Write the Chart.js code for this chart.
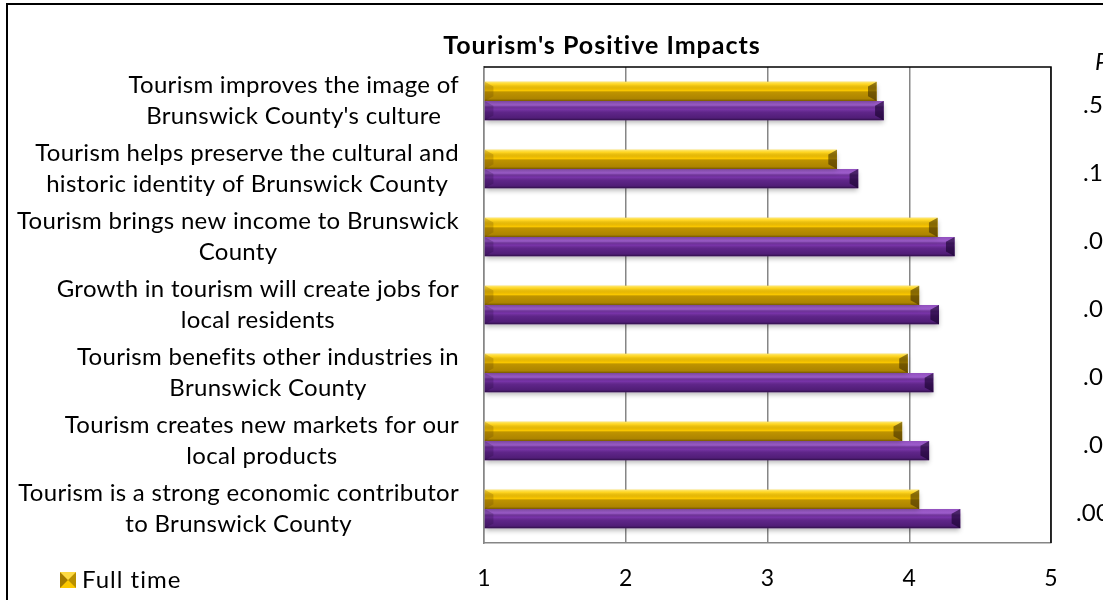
<!DOCTYPE html>
<html lang="en">
<head>
<meta charset="UTF-8">
<title>Tourism's Positive Impacts</title>
<script src="https://cdn.jsdelivr.net/npm/chart.js"></script>
<style>
    html, body {
        margin: 0;
        padding: 0;
        background: #fff;
        overflow: hidden;
    }
    canvas {
        display: block;
    }
</style>
</head>
<body>
<canvas id="impactsChart" width="1103" height="600"></canvas>
<script>
    const chartTitle = "Tourism's Positive Impacts";

    const statements = [
        ["Tourism improves the image of", "Brunswick County's culture"],
        ["Tourism helps preserve the cultural and", "historic identity of Brunswick County"],
        ["Tourism brings new income to Brunswick", "County"],
        ["Growth in tourism will create jobs for", "local residents"],
        ["Tourism benefits other industries in", "Brunswick County"],
        ["Tourism creates new markets for our", "local products"],
        ["Tourism is a strong economic contributor", "to Brunswick County"]
    ];

    const seriesNames = ["Full time", "Part time"];
    const fullTime = [3.77, 3.49, 4.20, 4.07, 3.99, 3.95, 4.07];
    const partTime = [3.82, 3.64, 4.32, 4.21, 4.17, 4.14, 4.36];

    const xTicks = [1, 2, 3, 4, 5];

    // significance column next to the plot
    const sigHeader = "P";
    const sigValues = [".5", ".1", ".0", ".0", ".0", ".0", ".00"];

    const FONT = 'Lato, "Noto Sans", sans-serif';

    const tones = {
        gold: {
            fill: '#FCC800',
            stops: [[0, 'rgba(255,244,160,0.75)'], [0.14, 'rgba(255,232,90,0.35)'], [0.45, 'rgba(0,0,0,0)'],
                    [0.56, 'rgba(95,65,0,0.4)'], [0.88, 'rgba(95,65,0,0.5)'], [1, 'rgba(60,40,0,0.7)']],
            end: 'rgba(55,38,0,0.55)',
            start: 'rgba(90,60,0,0.22)'
        },
        purple: {
            fill: '#7B35AC',
            stops: [[0, 'rgba(210,160,245,0.25)'], [0.22, 'rgba(190,130,235,0.5)'], [0.42, 'rgba(0,0,0,0)'],
                    [0.6, 'rgba(30,0,55,0.3)'], [0.88, 'rgba(30,0,55,0.45)'], [1, 'rgba(15,0,30,0.7)']],
            end: 'rgba(20,0,40,0.6)',
            start: 'rgba(20,0,40,0.2)'
        }
    };

    // bevel shading on top of each drawn bar
    function bevel(ctx, bar, tone, area) {
        const p = bar.getProps(['x', 'y', 'base', 'height'], true);
        const top = p.y - p.height / 2;
        const bottom = p.y + p.height / 2;
        const left = Math.max(area.left, Math.min(p.base, p.x));
        const right = Math.max(p.base, p.x);
        const d = Math.min(9, p.height * 0.45);

        const g = ctx.createLinearGradient(0, top, 0, bottom);
        tone.stops.forEach(s => g.addColorStop(s[0], s[1]));
        ctx.fillStyle = g;
        ctx.fillRect(left, top, right - left, p.height);

        ctx.fillStyle = tone.end;
        ctx.beginPath();
        ctx.moveTo(right, top);
        ctx.lineTo(right, bottom);
        ctx.lineTo(right - d, bottom - d * 0.55);
        ctx.lineTo(right - d, top + d * 0.55);
        ctx.closePath();
        ctx.fill();

        ctx.fillStyle = tone.start;
        ctx.beginPath();
        ctx.moveTo(left, top);
        ctx.lineTo(left + d, top + d * 0.55);
        ctx.lineTo(left + d, bottom - d * 0.55);
        ctx.lineTo(left, bottom);
        ctx.closePath();
        ctx.fill();
    }

    function legendMarker(ctx, x, y, s, tone) {
        const c = s / 2;
        ctx.fillStyle = tone.fill;
        ctx.fillRect(x, y, s, s);
        const tri = (pts, col) => {
            ctx.fillStyle = col;
            ctx.beginPath();
            ctx.moveTo(pts[0][0], pts[0][1]);
            pts.slice(1).forEach(q => ctx.lineTo(q[0], q[1]));
            ctx.closePath();
            ctx.fill();
        };
        tri([[x, y], [x + c, y + c], [x, y + s]], 'rgba(90,60,0,0.55)');
        tri([[x + s, y], [x + c, y + c], [x + s, y + s]], 'rgba(60,40,0,0.35)');
        tri([[x, y], [x + s, y], [x + c, y + c]], 'rgba(255,240,150,0.45)');
    }

    const decorations = {
        id: 'decorations',
        beforeDatasetsDraw(chart) {
            const ctx = chart.ctx;
            ctx.save();
            ctx.shadowColor = 'rgba(0,0,0,0.3)';
            ctx.shadowBlur = 5;
            ctx.shadowOffsetY = 3;
        },
        afterDatasetsDraw(chart) {
            const ctx = chart.ctx;
            ctx.restore();
            chart.data.datasets.forEach((ds, i) => {
                chart.getDatasetMeta(i).data.forEach(bar => bevel(ctx, bar, ds.tone, chart.chartArea));
            });
        },
        afterDraw(chart) {
            const ctx = chart.ctx;
            const area = chart.chartArea;
            const yScale = chart.scales.y;

            ctx.save();

            // outer frame (left and top edges in view)
            ctx.strokeStyle = '#000';
            ctx.lineWidth = 2;
            ctx.strokeRect(7, 4, 1400, 900);

            // plot area top and right edges
            ctx.lineWidth = 1.5;
            ctx.beginPath();
            ctx.moveTo(area.left, area.top);
            ctx.lineTo(area.right, area.top);
            ctx.lineTo(area.right, area.bottom);
            ctx.stroke();

            // title
            ctx.fillStyle = '#000';
            ctx.font = 'bold 25px ' + FONT;
            ctx.letterSpacing = '1px';
            ctx.textAlign = 'center';
            ctx.textBaseline = 'middle';
            ctx.fillText(chartTitle, 602, 46);

            // category labels, each block centred on itself and right-aligned to the axis
            ctx.font = '24px ' + FONT;
            ctx.letterSpacing = '0.3px';
            const lineGap = 31.5;
            const labelRight = area.left - 25;
            statements.forEach((lines, i) => {
                const cy = yScale.getPixelForValue(i);
                const w = Math.max(...lines.map(l => ctx.measureText(l).width));
                const cx = labelRight - w / 2;
                const y0 = cy - (lines.length - 1) * lineGap / 2;
                lines.forEach((l, k) => ctx.fillText(l, cx, y0 + k * lineGap));
            });

            // significance column, centred
            const colX = area.right + 32 + ctx.measureText(sigValues[0]).width / 2;
            sigValues.forEach((v, i) => {
                const cy = yScale.getPixelForValue(i);
                ctx.fillText(v, colX, cy + 4);
            });
            ctx.textAlign = 'left';
            ctx.font = 'italic 24px ' + FONT;
            ctx.fillText(sigHeader, area.right + 44, area.top - 5);

            // legend
            ctx.font = '24px ' + FONT;
            ctx.letterSpacing = '1px';
            chart.data.datasets.forEach((ds, i) => {
                const ly = 580 + i * 32;
                legendMarker(ctx, 60, ly - 8, 16, ds.tone);
                ctx.fillStyle = '#000';
                ctx.fillText(ds.label, 82, ly);
            });

            ctx.restore();
        }
    };

    const ctx = document.getElementById('impactsChart').getContext('2d');
    new Chart(ctx, {
        type: 'bar',
        data: {
            labels: statements,
            datasets: [
                {
                    label: seriesNames[0],
                    data: fullTime,
                    base: xTicks[0],
                    backgroundColor: tones.gold.fill,
                    tone: tones.gold,
                    borderWidth: 0,
                    barPercentage: 1.0,
                    categoryPercentage: 0.565
                },
                {
                    label: seriesNames[1],
                    data: partTime,
                    base: xTicks[0],
                    backgroundColor: tones.purple.fill,
                    tone: tones.purple,
                    borderWidth: 0,
                    barPercentage: 1.0,
                    categoryPercentage: 0.565
                }
            ]
        },
        options: {
            indexAxis: 'y',
            responsive: false,
            devicePixelRatio: 1,
            animation: false,
            layout: {
                padding: { top: 67, right: 52, bottom: 0, left: 0 }
            },
            scales: {
                x: {
                    min: xTicks[0],
                    max: xTicks[xTicks.length - 1],
                    afterBuildTicks: scale => {
                        scale.ticks = xTicks.map(v => ({ value: v }));
                    },
                    afterFit: scale => { scale.height = 57; },
                    grid: {
                        color: '#868686',
                        lineWidth: 1.5,
                        drawTicks: false
                    },
                    border: { color: '#868686', width: 1.5 },
                    ticks: {
                        color: '#000',
                        padding: 22,
                        font: { family: FONT, size: 23 }
                    }
                },
                y: {
                    afterFit: scale => { scale.width = 484; },
                    grid: { display: false, drawTicks: false },
                    border: { color: '#868686', width: 1.5 },
                    ticks: { display: false }
                }
            },
            plugins: {
                legend: { display: false },
                title: { display: false },
                tooltip: { enabled: false }
            }
        },
        plugins: [decorations]
    });
</script>
</body>
</html>
